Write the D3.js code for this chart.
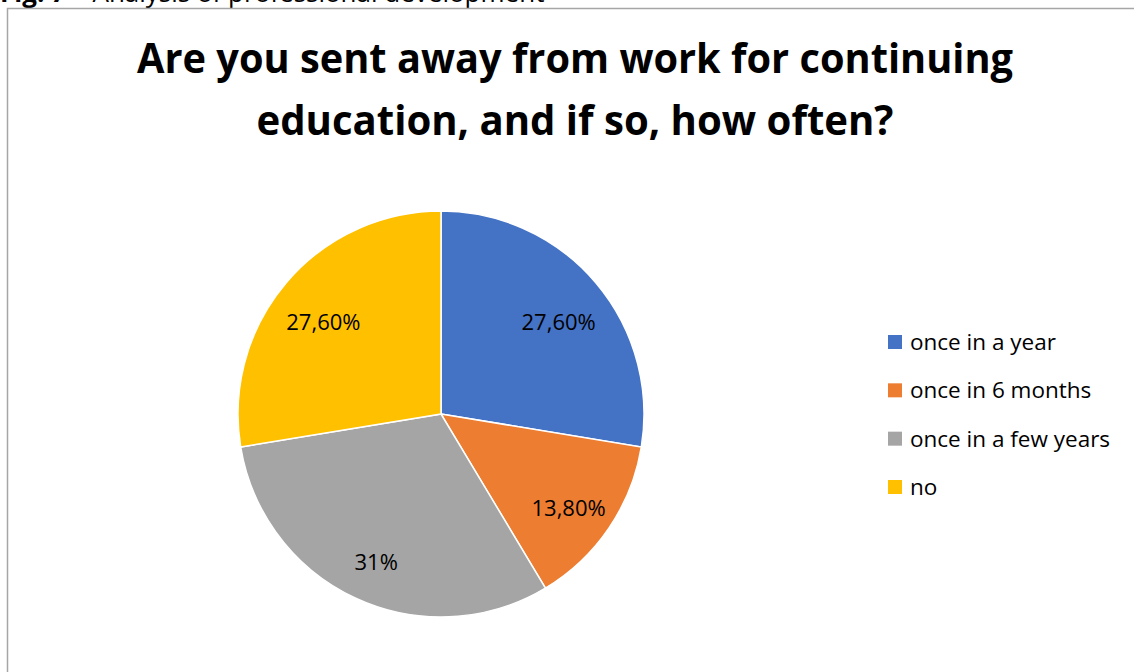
<!DOCTYPE html>
<html>
<head>
<meta charset="utf-8">
<script src="https://cdn.jsdelivr.net/npm/d3@7"></script>
<style>
  body { margin: 0; background: #fff; }
  svg { display: block; }
</style>
</head>
<body>
<div class="chart"></div>
<script>
// data
let categories = ['once in a year', 'once in 6 months', 'once in a few years', 'no'];
let values = [27.6, 13.8, 31, 27.6];
let labels = ['27,60%', '13,80%', '31%', '27,60%'];
let colors = ['#4472C4', '#ED7D31', '#A5A5A5', '#FFC000'];
let titleLines = ['Are you sent away from work for continuing', 'education, and if so, how often?'];

let width = 1134, height = 672;
let font = "'Open Sans', 'Liberation Sans', sans-serif";

let svg = d3.select('.chart')
    .append('svg')
    .attr('width', width)
    .attr('height', height);

// caption cut off at the top of the page
let caption = svg.append('text')
    .attr('x', 0)
    .attr('y', 2)
    .style('font-family', font)
    .style('font-size', 26);
caption.append('tspan').style('font-weight', 'bold').text('Fig. 7');
caption.append('tspan').text(' \u2013 Analysis of professional development');

// chart frame
svg.append('rect')
    .attr('x', 7.5)
    .attr('y', 8.5)
    .attr('width', 1140)
    .attr('height', 700)
    .attr('fill', 'none')
    .attr('stroke', '#a6a6a6')
    .attr('stroke-width', 1.5);

// title
let titleWidths = [876, 637];
svg.selectAll('.title')
    .data(titleLines)
    .enter()
    .append('text')
    .attr('class', 'title')
    .attr('x', 575)
    .attr('y', (d, i) => 73 + i * 62)
    .attr('text-anchor', 'middle')
    .attr('textLength', (d, i) => titleWidths[i])
    .attr('lengthAdjust', 'spacingAndGlyphs')
    .style('font-family', font)
    .style('font-weight', 'bold')
    .style('font-size', 42)
    .style('fill', '#000')
    .text(d => d);

// pie
let radius = 203;
let cx = 441, cy = 414;
let pieData = categories.map((c, i) => ({ name: c, value: values[i], label: labels[i], color: colors[i] }));

let pie = d3.pie().sort(null).value(d => d.value);
let arc = d3.arc().innerRadius(0).outerRadius(radius);
let labelArc = d3.arc().innerRadius(radius * 0.76).outerRadius(radius * 0.76);

let g = svg.append('g')
    .attr('transform', 'translate(' + cx + ',' + cy + ')');

let arcs = pie(pieData);

g.selectAll('path')
    .data(arcs)
    .enter()
    .append('path')
    .attr('d', arc)
    .attr('fill', d => d.data.color)
    .attr('stroke', '#fff')
    .attr('stroke-width', 1.5);

// labels sit a bit lower than the plain centroid, like the original
g.selectAll('.slice-label')
    .data(arcs)
    .enter()
    .append('text')
    .attr('class', 'slice-label')
    .attr('transform', d => {
        let c = labelArc.centroid(d);
        return 'translate(' + c[0] + ',' + (c[1] + 8) + ')';
    })
    .attr('text-anchor', 'middle')
    .attr('dy', '0.35em')
    .style('font-family', font)
    .style('font-size', 22)
    .style('fill', '#000')
    .text(d => d.data.label);

// legend
let legendY = d3.scalePoint()
    .domain(categories)
    .range([342, 487]);

let legend = svg.append('g');
let items = legend.selectAll('g')
    .data(pieData)
    .enter()
    .append('g')
    .attr('transform', d => 'translate(888,' + legendY(d.name) + ')');

items.append('rect')
    .attr('x', 0)
    .attr('y', -7)
    .attr('width', 14)
    .attr('height', 14)
    .attr('fill', d => d.color);

items.append('text')
    .attr('x', 22)
    .attr('dy', '0.35em')
    .style('font-family', font)
    .style('font-size', 22.5)
    .style('fill', '#000')
    .text(d => d.name);
</script>
</body>
</html>
